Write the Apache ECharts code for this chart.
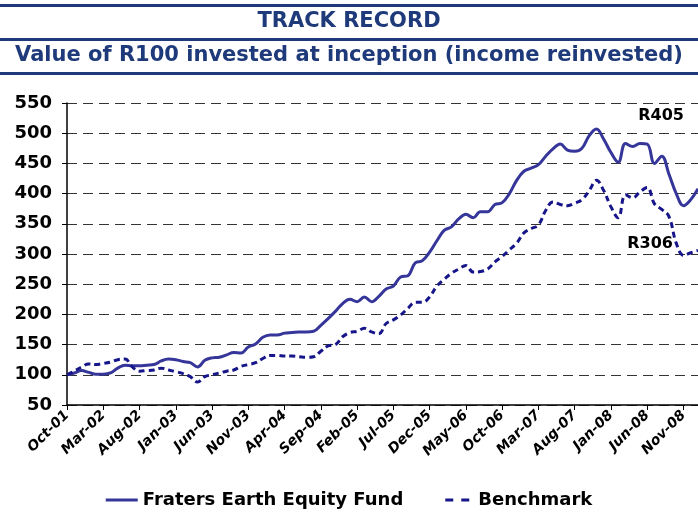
<!DOCTYPE html>
<html>
<head>
<meta charset="utf-8">
<script src="https://cdn.jsdelivr.net/npm/echarts@6/dist/echarts.min.js"></script>
<style>
  html, body { margin: 0; padding: 0; background: #fff; }
  #chart { width: 698px; height: 514px; }
</style>
</head>
<body>
<div id="chart"></div>
<script>
// month-end categories, Oct-01 .. Jan-09
var monthNames = ['Jan', 'Feb', 'Mar', 'Apr', 'May', 'Jun', 'Jul', 'Aug', 'Sep', 'Oct', 'Nov', 'Dec'];
var months = [];
for (var i = 0; i < 88; i++) {
  var m = (9 + i) % 12;
  var y = 1 + Math.floor((9 + i) / 12);
  months.push(monthNames[m] + '-' + (y < 10 ? '0' + y : y));
}

// values
var fundValues = [
  100, 103, 107, 104, 101, 101, 103, 111, 116, 115,
  115, 116, 117, 123, 126, 125, 122, 120, 113, 124,
  128, 129, 133, 137, 136, 146, 151, 162, 166, 166,
  169, 170, 171, 171, 172, 182, 193, 205, 218, 225,
  221, 229, 221, 230, 242, 247, 262, 264, 285, 289,
  303, 322, 339, 345, 358, 366, 360, 370, 370, 382,
  385, 400, 422, 437, 442, 448, 462, 474, 482, 472,
  470, 475, 496, 507, 490, 468, 452, 483, 478, 483,
  482, 450, 462, 432, 400, 380, 390, 408
];
var benchmarkValues = [
  100, 106, 113, 118, 117, 119, 121, 125, 126, 113,
  106, 107, 108, 111, 108, 105, 102, 97, 88, 97,
  100, 103, 106, 108, 114, 117, 120, 127, 132, 132,
  131, 131, 130, 129, 130, 139, 148, 150, 163, 170,
  172, 177, 171, 168, 185, 191, 199, 210, 220, 220,
  229, 247, 258, 268, 275, 281, 270, 271, 275, 287,
  296, 307, 318, 335, 342, 348, 372, 386, 382, 380,
  384, 390, 405, 422, 405, 378, 360, 398, 393, 403,
  410, 383, 374, 362, 318, 298, 302, 306
];

var navy = '#1f3a7a';
var chart = echarts.init(document.getElementById('chart'), null, { renderer: 'canvas' });

chart.setOption({
  animation: false,
  textStyle: { fontFamily: 'DejaVu Sans' },
  graphic: [
    { type: 'rect', shape: { x: 0, y: 4, width: 698, height: 3 }, style: { fill: navy } },
    { type: 'rect', shape: { x: 0, y: 38, width: 698, height: 3 }, style: { fill: navy } },
    { type: 'rect', shape: { x: 0, y: 72, width: 698, height: 3 }, style: { fill: navy } },
    {
      type: 'text', left: 'center', top: 11,
      style: { text: 'TRACK RECORD', font: 'bold 21px "DejaVu Sans"', fill: navy }
    },
    {
      type: 'text', left: 'center', top: 45,
      style: { text: 'Value of R100 invested at inception (income reinvested)', font: 'bold 21px "DejaVu Sans"', fill: navy }
    },
    {
      type: 'text', right: 14, top: 108,
      style: { text: 'R405', font: 'bold 16px "DejaVu Sans"', fill: '#000' }
    },
    {
      type: 'text', right: 25, top: 236,
      style: { text: 'R306', font: 'bold 16px "DejaVu Sans"', fill: '#000' }
    }
  ],
  legend: {
    bottom: 0,
    left: 'center',
    itemGap: 42,
    itemWidth: 32,
    itemHeight: 3,
    textStyle: { fontSize: 18, fontWeight: 'bold', color: '#000', fontFamily: 'DejaVu Sans' },
    data: [
      { name: 'Fraters Earth Equity Fund', icon: 'rect' },
      { name: 'Benchmark', icon: 'path://M0,0H8V3H0Z M16,0H24V3H16Z' }
    ]
  },
  grid: { left: 67, right: -2, top: 103, bottom: 109 },
  xAxis: {
    type: 'category',
    data: months,
    boundaryGap: false,
    axisLine: { lineStyle: { color: '#000', width: 1.5 } },
    axisTick: { interval: 4, length: 5, lineStyle: { color: '#000' } },
    axisLabel: {
      interval: 4,
      rotate: 45,
      margin: 8,
      fontSize: 14,
      fontWeight: 'bold',
      fontStyle: 'italic',
      color: '#000'
    },
    splitLine: { show: false }
  },
  yAxis: {
    type: 'value',
    min: 50,
    max: 550,
    interval: 50,
    axisLine: { show: true, lineStyle: { color: '#000', width: 1.5 } },
    axisTick: { show: true, length: 5, lineStyle: { color: '#000' } },
    axisLabel: { fontSize: 18, fontWeight: 'bold', color: '#000', margin: 15 },
    splitLine: { lineStyle: { color: '#333', type: [10, 6], width: 1 } }
  },
  series: [
    {
      name: 'Fraters Earth Equity Fund',
      type: 'line',
      data: fundValues,
      smooth: 0.4,
      showSymbol: false,
      lineStyle: { color: '#35359a', width: 3 },
      itemStyle: { color: '#35359a' }
    },
    {
      name: 'Benchmark',
      type: 'line',
      data: benchmarkValues,
      smooth: 0.4,
      showSymbol: false,
      lineStyle: { color: '#16168a', width: 3, type: [6, 4] },
      itemStyle: { color: '#16168a' }
    }
  ]
});
</script>
</body>
</html>
